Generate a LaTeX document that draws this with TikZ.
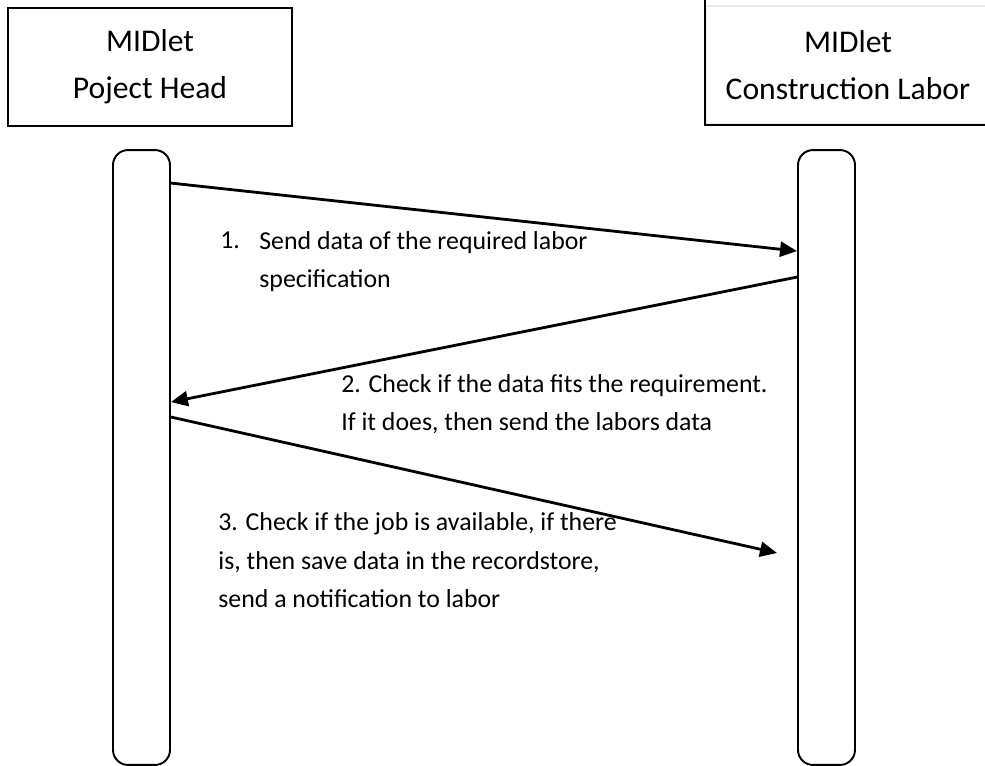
\documentclass[tikz,border=0pt]{standalone}
\usepackage{fontspec}
\setmainfont{Carlito}
\usetikzlibrary{arrows.meta}

\begin{document}
\begin{tikzpicture}
	[x=0.02cm, y=-0.02cm,
	midlet/.style={draw, line width=1.1pt, minimum width=5.68cm, minimum height=2.36cm, inner sep=0pt, align=center, font=\fontsize{18}{26.7}\selectfont},
	lifeline/.style={draw, line width=1.1pt, rounded corners=0.3cm, minimum width=1.14cm, minimum height=12.3cm, inner sep=0pt},
	message/.style={-{Triangle[length=0.34cm, width=0.3cm]}, line width=1.6pt},
	note/.style={anchor=base west, align=left, inner sep=0pt, font=\fontsize{14.7}{22.1}\selectfont}]
	\useasboundingbox (0,0) rectangle (985,766);

	% the two MIDlets
	\node[midlet] (head) at (150, 67) {MIDlet\\Poject Head};
	\node[midlet, draw=black!8] (labor) at (848, 65) {MIDlet\\Construction Labor};
	\draw[line width=1.1pt] ([yshift=0.2cm]labor.north west) -- (labor.south west) -- ([xshift=0.2cm]labor.south east);

	% their lifelines
	\node[lifeline] (pl) at (141.5, 457.5) {};
	\node[lifeline] (cl) at (826.5, 457.5) {};

	% messages
	\coordinate (m3end) at (777, 553);
	\draw[message] ([yshift=-0.68cm]pl.north east) -- ([yshift=-2.04cm]cl.north west);
	\draw[message] ([yshift=-2.56cm]cl.north west) -- ([yshift=-5.06cm]pl.north east);
	\draw[message] ([yshift=-5.36cm]pl.north east) -- (m3end);

	% the multi-line notes sit on the baseline of their last line
	\node[note] (n1) at (220, 249) {1.};
	\node[note] (t1) at (259, 288) {Send data of the required labor\\specification};
	\node[note] (t2) at (341, 431) {2. Check if the data fits the requirement.\\If it does, then send the labors data};
	\node[note] (t3) at (218, 608) {3. Check if the job is available, if there\\is, then save data in the recordstore,\\send a notification to labor};
\end{tikzpicture}
\end{document}
